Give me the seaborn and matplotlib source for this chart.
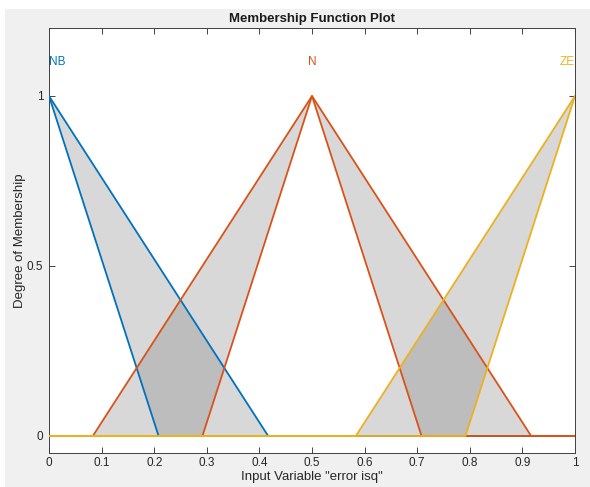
import matplotlib
matplotlib.use("Agg")
import matplotlib.pyplot as plt
import seaborn as sns
import pandas as pd
from matplotlib.patches import Rectangle

# ---- data ----
mf_names = ["NB", "N", "ZE"]
mf_colors = ["#0072BD", "#D95319", "#EDB120"]
# upper membership function vertices
upper_x = [[0.0, 0.4167, 1.0], [0.0, 0.0833, 0.5, 0.9167, 1.0], [0.0, 0.5833, 1.0]]
upper_y = [[1.0, 0.0, 0.0], [0.0, 0.0, 1.0, 0.0, 0.0], [0.0, 0.0, 1.0]]
# lower membership function vertices
lower_x = [[0.0, 0.2083, 1.0], [0.0, 0.2917, 0.5, 0.7083, 1.0], [0.0, 0.7917, 1.0]]
lower_y = [[1.0, 0.0, 0.0], [0.0, 0.0, 1.0, 0.0, 0.0], [0.0, 0.0, 1.0]]
label_x = [0.0, 0.5, 1.0]
label_y = 1.1
label_ha = ["left", "center", "right"]
x_ticks = [0, 0.1, 0.2, 0.3, 0.4, 0.5, 0.6, 0.7, 0.8, 0.9, 1]
x_tick_labels = ["0", "0.1", "0.2", "0.3", "0.4", "0.5", "0.6", "0.7", "0.8", "0.9", "1"]
y_ticks = [0, 0.5, 1]
y_tick_labels = ["0", "0.5", "1"]

sns.set_style("white")
plt.rcParams["font.family"] = ["Liberation Sans", "DejaVu Sans"]

fig = plt.figure(figsize=(5.9, 4.87), dpi=100)
fig.patch.set_facecolor("white")
fig.patches.append(Rectangle((5 / 590, 0), 1, 1 - 9 / 487, transform=fig.transFigure,
                             facecolor="#f0f0f0", edgecolor="none", zorder=-10))
ax = fig.add_axes([49 / 590, 1 - 453 / 487, (575 - 49) / 590, (453 - 28) / 487])
ax.set_facecolor("white")

# fills (footprint of uncertainty)
for i in range(len(mf_names)):
    px = list(upper_x[i]) + list(reversed(lower_x[i]))
    py = list(upper_y[i]) + list(reversed(lower_y[i]))
    ax.fill(px, py, color=(0.5, 0.5, 0.5), alpha=0.3, linewidth=0, zorder=1)

# lines
for i in range(len(mf_names)):
    dfu = pd.DataFrame({"x": upper_x[i], "y": upper_y[i]})
    dfl = pd.DataFrame({"x": lower_x[i], "y": lower_y[i]})
    sns.lineplot(data=dfu, x="x", y="y", ax=ax, color=mf_colors[i], linewidth=1.3,
                 sort=False, estimator=None, zorder=3)
    sns.lineplot(data=dfl, x="x", y="y", ax=ax, color=mf_colors[i], linewidth=1.3,
                 sort=False, estimator=None, zorder=3)
    ax.text(label_x[i], label_y, mf_names[i], color=mf_colors[i], ha=label_ha[i],
            va="center", fontsize=8.5)

ax.set_xlim(0, 1)
ax.set_ylim(-0.05, 1.2)
ax.set_xticks(x_ticks)
ax.set_xticklabels(x_tick_labels)
ax.set_yticks(y_ticks)
ax.set_yticklabels(y_tick_labels)
ax.tick_params(direction="in", length=4, width=0.6, colors="#262626", labelsize=8.5,
               top=True, right=True, bottom=True, left=True)
ax.tick_params(axis="x", pad=3)
ax.tick_params(axis="y", pad=4)
for sp in ax.spines.values():
    sp.set_visible(True)
    sp.set_color("#404040")
    sp.set_linewidth(0.7)

ax.set_xlabel('Input Variable "error isq"', fontsize=9.5, color="#262626", labelpad=1)
ax.set_ylabel("Degree of Membership", fontsize=9.5, color="#262626", labelpad=1)
ax.set_title("Membership Function Plot", fontsize=9.5, fontweight="bold", color="#1a1a1a", pad=4)

fig.savefig("out.png", dpi=100, facecolor=fig.get_facecolor())
